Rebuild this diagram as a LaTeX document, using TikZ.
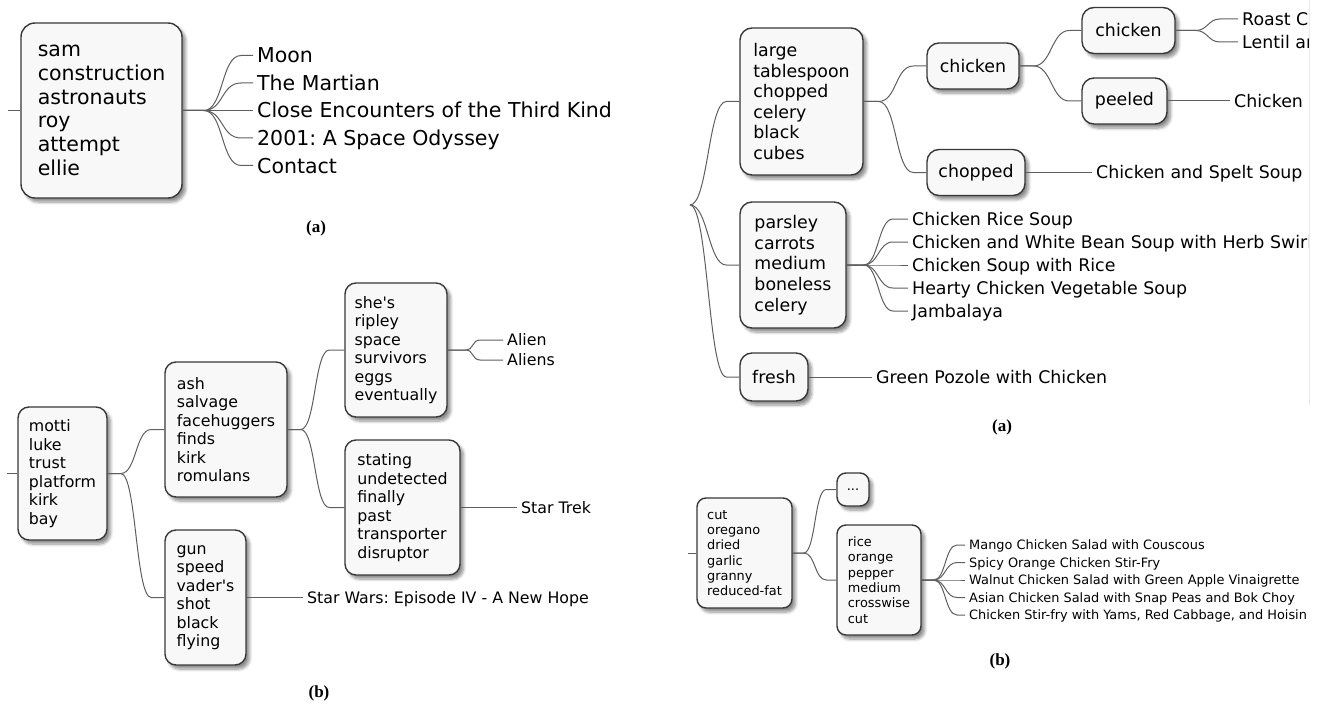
\documentclass[tikz,border=0pt]{standalone}
\usepackage{fontspec}
\newfontfamily\djv{DejaVu Sans}
\newfontfamily\capfont{Liberation Serif}
\usetikzlibrary{calc,shadows.blur}
\definecolor{boxfill}{RGB}{248,248,248}
\definecolor{boxline}{RGB}{56,56,56}
\definecolor{conline}{RGB}{95,95,95}
\begin{document}
\frenchspacing
\begin{tikzpicture}[x=1pt,y=-1pt,
  mmj/.store in=\mmj, mmj=14,
  mmb/.store in=\mmb, mmb=13,
  mmc/.store in=\mmc, mmc=18,
  mmcurve/.style={to path={-- ++(\mmj,0) .. controls +(\mmc,0) and +(-\mmc,0) .. ($(\tikztotarget)+(-\mmb,0)$) -- (\tikztotarget)}},
  conn/.style={draw=conline, line width=1pt},
  mbox/.style={draw=boxline, fill=boxfill, line width=1.4pt, inner sep=0pt, align=left,
    blur shadow={shadow xshift=3.5pt, shadow yshift=-4pt, shadow blur radius=3pt, shadow blur steps=6, shadow opacity=45}},
  leaf/.style={inner xsep=4pt, inner ysep=0pt, anchor=west, text depth=0pt},
  tA/.style={font=\djv\frenchspacing\fontsize{20.5}{23.8}\selectfont},
  tB/.style={font=\djv\frenchspacing\fontsize{15.8}{18.5}\selectfont},
  tC/.style={font=\djv\frenchspacing\fontsize{17.4}{20.6}\selectfont},
  tD/.style={font=\djv\frenchspacing\fontsize{12.9}{15.3}\selectfont},
  bA/.style={mbox,tA,rounded corners=14pt},
  bB/.style={mbox,tB,rounded corners=11pt},
  bC/.style={mbox,tC,rounded corners=12pt},
  bD/.style={mbox,tD,rounded corners=9pt},
  lA/.style={leaf,tA,text height=15pt},
  lB/.style={leaf,tB,text height=11.5pt},
  lC/.style={leaf,tC,text height=12.7pt},
  lD/.style={leaf,tD,text height=9.4pt},
  captxt/.style={font=\capfont\bfseries\fontsize{17}{19}\selectfont, inner sep=0pt},
]
\useasboundingbox (0,0) rectangle (1320,706);

% ---------------- Panel top-left (a) ----------------
\coordinate (sA) at (8,110.5);
\node[bA,minimum width=161pt,minimum height=175pt] (sam) at (101.5,110.5)
  {sam\\construction\\astronauts\\roy\\attempt\\ellie};
\node[lA] (moon) at (253,55.5) {Moon};
\node[lA] (martian) at (253,83) {The Martian};
\node[lA] (close) at (253,110.5) {Close Encounters of the Third Kind};
\node[lA] (odyssey) at (253,138) {2001: A Space Odyssey};
\node[lA] (contact) at (253,165.5) {Contact};
\draw[conn] (sA) -- (sam.west);
\draw[conn,mmcurve,mmj=21,mmb=12,mmc=20] (sam.east) to (moon.west);
\draw[conn,mmcurve,mmj=21,mmb=12,mmc=20] (sam.east) to (martian.west);
\draw[conn,mmcurve,mmj=21,mmb=12,mmc=20] (sam.east) to (close.west);
\draw[conn,mmcurve,mmj=21,mmb=12,mmc=20] (sam.east) to (odyssey.west);
\draw[conn,mmcurve,mmj=21,mmb=12,mmc=20] (sam.east) to (contact.west);
\node[captxt] (capA1) at (316,228) {(a)};

% ---------------- Panel bottom-left (b) ----------------
\coordinate (sB) at (7,473.5);
\node[bB,minimum width=89pt,minimum height=133pt] (motti) at (62.5,473.5)
  {motti\\luke\\trust\\platform\\kirk\\bay};
\node[bB,minimum width=122pt,minimum height=135pt] (ash) at (226,429.5)
  {ash\\salvage\\facehuggers\\finds\\kirk\\romulans};
\node[bB,minimum width=81pt,minimum height=135pt] (gun) at (205.5,597.5)
  {gun\\speed\\vader's\\shot\\black\\flying};
\node[bB,minimum width=102pt,minimum height=134pt] (shes) at (396,350)
  {she's\\ripley\\space\\survivors\\eggs\\eventually};
\node[bB,minimum width=115pt,minimum height=135pt] (stating) at (402.5,507.5)
  {stating\\undetected\\finally\\past\\transporter\\disruptor};
\node[lB] (alien) at (503,340) {Alien};
\node[lB] (aliens) at (503,360) {Aliens};
\node[lB] (startrek) at (517,507.5) {Star Trek};
\node[lB] (starwars) at (303,597.5) {Star Wars: Episode IV - A New Hope};
\draw[conn] (sB) -- (motti.west);
\draw[conn,mmcurve,mmj=13,mmb=13,mmc=16] (motti.east) to (ash.west);
\draw[conn,mmcurve,mmj=13,mmb=13,mmc=16] (motti.east) to (gun.west);
\draw[conn,mmcurve,mmj=13,mmb=15,mmc=15] (ash.east) to (shes.west);
\draw[conn,mmcurve,mmj=13,mmb=15,mmc=15] (ash.east) to (stating.west);
\draw[conn,mmcurve,mmj=18,mmb=23,mmc=8] (shes.east) to (alien.west);
\draw[conn,mmcurve,mmj=18,mmb=23,mmc=8] (shes.east) to (aliens.west);
\draw[conn] (stating.east) -- (startrek.west);
\draw[conn] (gun.east) -- (starwars.west);
\node[captxt] (capB1) at (319,693) {(b)};

% ---------------- Panel top-right (a) ----------------
\coordinate (root) at (690,205);
\node[bC,minimum width=123pt,minimum height=147pt] (large) at (801.5,101.5)
  {large\\tablespoon\\chopped\\celery\\black\\cubes};
\node[bC,minimum width=106pt,minimum height=126pt] (parsley) at (793,265)
  {parsley\\carrots\\medium\\boneless\\celery};
\node[bC,minimum width=68pt,minimum height=48pt] (fresh) at (774,377) {fresh};
\node[bC,minimum width=92pt,minimum height=46pt] (chk1) at (973,66) {chicken};
\node[bC,minimum width=98pt,minimum height=46pt] (chopped) at (976,172.5) {chopped};
\node[bC,minimum width=93pt,minimum height=46pt] (chk2) at (1128.5,30.5) {chicken};
\node[bC,minimum width=85pt,minimum height=46pt] (peeled) at (1124.5,101) {peeled};
\begin{scope}
  \clip (680,0) rectangle (1309,440);
  \node[lC] (roast) at (1238,19) {Roast C};
  \node[lC] (lentil) at (1238,42) {Lentil an};
  \node[lC] (chkP) at (1230,101) {Chicken};
  \node[lC] (spelt) at (1092,172.5) {Chicken and Spelt Soup};
  \node[lC] (rice1) at (908,219) {Chicken Rice Soup};
  \node[lC] (bean) at (908,242) {Chicken and White Bean Soup with Herb Swirl};
  \node[lC] (rice2) at (908,265) {Chicken Soup with Rice};
  \node[lC] (hearty) at (908,288) {Hearty Chicken Vegetable Soup};
  \node[lC] (jamb) at (908,311) {Jambalaya};
  \node[lC] (pozole) at (872,377) {Green Pozole with Chicken};
\end{scope}
\draw[conn,mmcurve,mmj=0,mmb=13,mmc=18] (root) to (large.west);
\draw[conn,mmcurve,mmj=0,mmb=13,mmc=18] (root) to (parsley.west);
\draw[conn,mmcurve,mmj=0,mmb=13,mmc=18] (root) to (fresh.west);
\draw[conn,mmcurve,mmj=15,mmb=13,mmc=18] (large.east) to (chk1.west);
\draw[conn,mmcurve,mmj=15,mmb=13,mmc=18] (large.east) to (chopped.west);
\draw[conn,mmcurve,mmj=14,mmb=12,mmc=18] (chk1.east) to (chk2.west);
\draw[conn,mmcurve,mmj=14,mmb=12,mmc=18] (chk1.east) to (peeled.west);
\draw[conn,mmcurve,mmj=20,mmb=18,mmc=12] (chk2.east) to (roast.west);
\draw[conn,mmcurve,mmj=20,mmb=18,mmc=12] (chk2.east) to (lentil.west);
\draw[conn] (peeled.east) -- (chkP.west);
\draw[conn] (chopped.east) -- (spelt.west);
\draw[conn,mmcurve,mmj=17,mmb=15,mmc=15] (parsley.east) to (rice1.west);
\draw[conn,mmcurve,mmj=17,mmb=15,mmc=15] (parsley.east) to (bean.west);
\draw[conn,mmcurve,mmj=17,mmb=15,mmc=15] (parsley.east) to (rice2.west);
\draw[conn,mmcurve,mmj=17,mmb=15,mmc=15] (parsley.east) to (hearty.west);
\draw[conn,mmcurve,mmj=17,mmb=15,mmc=15] (parsley.east) to (jamb.west);
\draw[conn] (fresh.east) -- (pozole.west);
\draw[black!8, line width=1pt] (1309.5,0) -- (1309.5,405);
\node[captxt] (capA2) at (1002,427) {(a)};

% ---------------- Panel bottom-right (b) ----------------
\coordinate (sD) at (688,553);
\node[bD,minimum width=95pt,minimum height=110pt] (cut) at (744.5,553)
  {cut\\oregano\\dried\\garlic\\granny\\reduced-fat};
\node[bD,minimum width=32pt,minimum height=33pt] (dots) at (853,489.5) {...};
\node[bD,minimum width=84pt,minimum height=110pt] (rice) at (879,580)
  {rice\\orange\\pepper\\medium\\crosswise\\cut};
\node[lD] (mango) at (965,545) {Mango Chicken Salad with Couscous};
\node[lD] (spicy) at (965,562.5) {Spicy Orange Chicken Stir-Fry};
\node[lD] (walnut) at (965,580) {Walnut Chicken Salad with Green Apple Vinaigrette};
\node[lD] (asian) at (965,597.5) {Asian Chicken Salad with Snap Peas and Bok Choy};
\node[lD] (stirfry) at (965,615) {Chicken Stir-fry with Yams, Red Cabbage, and Hoisin};
\draw[conn] (sD) -- (cut.west);
\draw[conn,mmcurve,mmj=11,mmb=10,mmc=12] (cut.east) to (dots.west);
\draw[conn,mmcurve,mmj=11,mmb=10,mmc=12] (cut.east) to (rice.west);
\draw[conn,mmcurve,mmj=12,mmb=8,mmc=12] (rice.east) to (mango.west);
\draw[conn,mmcurve,mmj=12,mmb=8,mmc=12] (rice.east) to (spicy.west);
\draw[conn,mmcurve,mmj=12,mmb=8,mmc=12] (rice.east) to (walnut.west);
\draw[conn,mmcurve,mmj=12,mmb=8,mmc=12] (rice.east) to (asian.west);
\draw[conn,mmcurve,mmj=12,mmb=8,mmc=12] (rice.east) to (stirfry.west);
\node[captxt] (capB2) at (1000,661) {(b)};
\end{tikzpicture}
\end{document}
